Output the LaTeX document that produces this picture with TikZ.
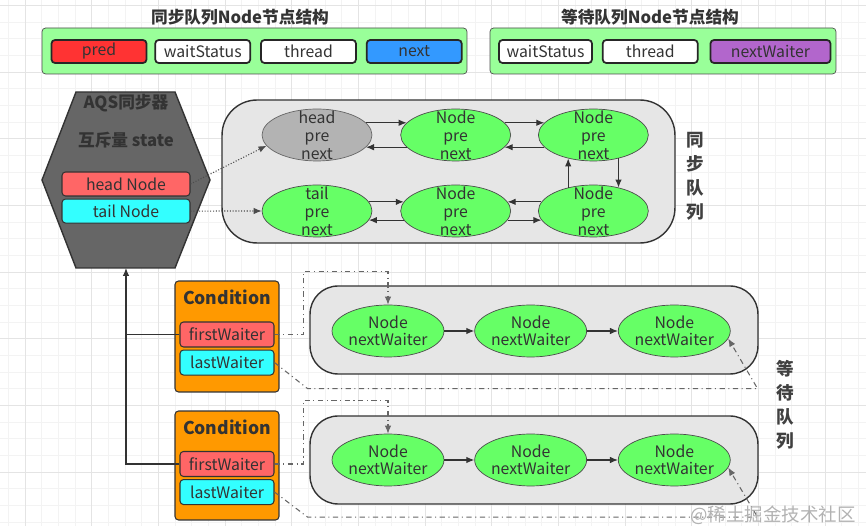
\documentclass[tikz,border=0pt]{standalone}
\usepackage{fontspec}
\setmainfont{Noto Sans CJK SC}
\usetikzlibrary{arrows.meta, positioning, shapes.geometric}
\definecolor{fieldgreen}{RGB}{153,255,153}
\definecolor{predred}{RGB}{255,51,51}
\definecolor{nextblue}{RGB}{51,153,255}
\definecolor{waiterpurple}{RGB}{178,102,204}
\definecolor{hexgray}{RGB}{102,102,102}
\definecolor{refred}{RGB}{255,102,102}
\definecolor{refcyan}{RGB}{51,255,255}
\definecolor{queuegray}{RGB}{230,230,230}
\definecolor{headgray}{RGB}{179,179,179}
\definecolor{nodegreen}{RGB}{102,255,102}
\definecolor{condorange}{RGB}{255,153,0}
\definecolor{gridminor}{RGB}{243,243,243}
\definecolor{gridmajor}{RGB}{228,228,228}

\begin{document}
\begin{tikzpicture}[
    x=0.02cm, y=-0.02cm,
    every node/.style={font=\fontsize{9}{10.5}\selectfont, text=black!80},
    field/.style={rectangle, rounded corners=2pt, draw=black!85, line width=1pt, minimum width=1.9cm,
                  minimum height=0.46cm, inner sep=0pt},
    panel/.style={rectangle, rounded corners=2pt, draw=black!70, fill=fieldgreen, minimum height=0.92cm},
    title/.style={font=\fontsize{9.5}{11}\bfseries\selectfont},
    ref/.style={rectangle, rounded corners=2pt, draw=black!80, semithick, minimum width=2.56cm,
                minimum height=0.48cm, inner sep=0pt},
    queue/.style={rectangle, draw=black!80, thick, fill=queuegray},
    qnode/.style={ellipse, draw=black!70, fill=nodegreen, minimum width=2.2cm, minimum height=1.04cm,
                  inner sep=0pt, align=center},
    syncnode/.style={qnode, inner ysep=-6pt, font=\fontsize{9}{10.2}\selectfont},
    waitnode/.style={qnode, font=\fontsize{9}{9.6}\selectfont},
    cond/.style={rectangle, rounded corners=2pt, draw=black!80, semithick, fill=condorange, minimum width=2.08cm},
    condtitle/.style={font=\fontsize{10}{12}\bfseries\selectfont},
    waiter/.style={rectangle, rounded corners=2pt, draw=black!80, semithick, minimum width=1.88cm,
                   minimum height=0.5cm, inner sep=0pt},
    arrow/.style={-{Latex[length=1.6mm, width=1.3mm]}, semithick, draw=black!80},
    reflink/.style={arrow, densely dotted, draw=black!70},
    waitlink/.style={arrow, dash dot, draw=black!60},
    vlabel/.style={font=\fontsize{10}{13.6}\bfseries\selectfont, align=center, text=black!75}
]
    \useasboundingbox (0,0) rectangle (866,526);
    \foreach \gx in {0,...,51} \draw[gridminor] ({8.33+16.667*\gx},0) -- ++(0,526);
    \foreach \gy in {0,...,31} \draw[gridminor] (0,{5.5+16.667*\gy}) -- ++(866,0);
    \foreach \gx in {0,...,12} \draw[gridmajor] ({25+66.667*\gx},0) -- ++(0,526);
    \foreach \gy in {0,...,7} \draw[gridmajor] (0,{5.5+66.667*\gy}) -- ++(866,0);

    \node[title] (synctitle) at (240,17) {同步队列Node节点结构};
    \node[panel, minimum width=8.5cm] (syncpanel) at (254.5,51) {};
    \node[field, fill=predred] (pred) at (99,51.5) {pred};
    \node[field, fill=white, right=0.14cm of pred] (status) {waitStatus};
    \node[field, fill=white, right=0.18cm of status] (thread) {thread};
    \node[field, fill=nextblue, right=0.18cm of thread] (next) {next};

    \node[title] (waittitle) at (650,17) {等待队列Node节点结构};
    \node[panel, minimum width=6.92cm] (waitpanel) at (663,51) {};
    \node[field, fill=white, minimum width=1.86cm] (wstatus) at (545.5,51.5) {waitStatus};
    \node[field, fill=white, right=0.18cm of wstatus] (wthread) {thread};
    \node[field, fill=waiterpurple, minimum width=2.4cm, right=0.22cm of wthread] (nextwaiter) {nextWaiter};

    \draw[draw=black!80, thick, fill=hexgray] (42,180) -- (76,92) -- (175,92) -- (210,180) -- (175,268)
        -- (76,268) -- cycle;
    \coordinate (aqsbase) at (126,268);
    \node[title] (aqs) at (126,103) {AQS同步器};
    \node[title] (mutex) at (126,140) {互斥量 state};
    \node[ref, fill=refred] (headref) at (126,184) {head Node};
    \node[ref, fill=refcyan, below=0.04cm of headref] (tailref) {tail Node};

    \node[queue, rounded corners=0.7cm, minimum width=9.06cm, minimum height=2.86cm] (syncq) at (448.5,171.5) {};
    \node[syncnode, fill=headgray, draw=black!60] (head) at (317,135) {head\\pre\\next};
    \node[syncnode, right=0.56cm of head] (n1) {Node\\pre\\next};
    \node[syncnode, right=0.54cm of n1] (n2) {Node\\pre\\next};
    \node[syncnode] (tail) at (317,211) {tail\\pre\\next};
    \node[syncnode, right=0.56cm of tail] (n4) {Node\\pre\\next};
    \node[syncnode, right=0.54cm of n4] (n3) {Node\\pre\\next};
    \node[vlabel] (synclabel) at (695,176) {同\\步\\队\\列};

    \draw[arrow] (head.14) -- (n1.166);
    \draw[arrow] (n1.-166) -- (head.-14);
    \draw[arrow] (n1.14) -- (n2.166);
    \draw[arrow] (n2.-166) -- (n1.-14);
    \draw[arrow] (n2.-43) -- (n3.43);
    \draw[arrow] (n3.137) -- (n2.-137);
    \draw[arrow] (n3.170) -- (n4.10);
    \draw[arrow] (n4.-10) -- (n3.-170);
    \draw[arrow] (tail.10) -- (n4.170);
    \draw[arrow] (n4.-170) -- (tail.-10);
    \draw[reflink] (headref.east) -- (head.192);
    \draw[reflink] (tailref.east) -- (tail.west);

    \node[cond, minimum height=2.22cm] (cond1) at (227,336.5) {};
    \node[condtitle] (cond1title) at (227,297) {Condition};
    \node[waiter, fill=refred] (first1) at (227,334.5) {firstWaiter};
    \node[waiter, fill=refcyan, below=0.04cm of first1] (last1) {lastWaiter};
    \node[queue, rounded corners=0.56cm, minimum width=8.96cm, minimum height=1.76cm] (waitq1) at (534,330) {};
    \node[waitnode] (w1a) at (388,331) {Node\\nextWaiter};
    \node[waitnode, right=0.6cm of w1a] (w1b) {Node\\nextWaiter};
    \node[waitnode, right=0.62cm of w1b] (w1c) {Node\\nextWaiter};
    \draw[arrow] (w1a) -- (w1b);
    \draw[arrow] (w1b) -- (w1c);

    \node[cond, minimum height=2.18cm] (cond2) at (227,465.5) {};
    \node[condtitle] (cond2title) at (227,427) {Condition};
    \node[waiter, fill=refred] (first2) at (227,464) {firstWaiter};
    \node[waiter, fill=refcyan, below=0.04cm of first2] (last2) {lastWaiter};
    \node[queue, rounded corners=0.56cm, minimum width=8.96cm, minimum height=1.76cm] (waitq2) at (534,460) {};
    \node[waitnode] (w2a) at (388,460) {Node\\nextWaiter};
    \node[waitnode, right=0.6cm of w2a] (w2b) {Node\\nextWaiter};
    \node[waitnode, right=0.62cm of w2b] (w2c) {Node\\nextWaiter};
    \draw[arrow] (w2a) -- (w2b);
    \draw[arrow] (w2b) -- (w2c);
    \node[vlabel] (waitlabel) at (785,405) {等\\待\\队\\列};

    \draw[waitlink] (first1.east) -- ++(29,0) |- ([yshift=0.66cm]w1a.north) -- (w1a.north);
    \draw[waitlink] (last1.east) -- ++(33,26) -- ++(450,0) -- (w1c.-8);
    \draw[waitlink] (first2.east) -- ++(29,0) |- ([yshift=0.66cm]w2a.north) -- (w2a.north);
    \draw[waitlink] (last2.east) -- ++(33,25) -- ++(450,0) -- (w2c.-8);
    \draw[semithick, draw=black!80] (first1.west) -- (first1.west -| aqsbase);
    \draw[arrow] (first2.west) -| (aqsbase);

    \node[font=\fontsize{10.5}{12}\selectfont, text=black!30] (mark) at (773,515) {@稀土掘金技术社区};
\end{tikzpicture}
\end{document}
